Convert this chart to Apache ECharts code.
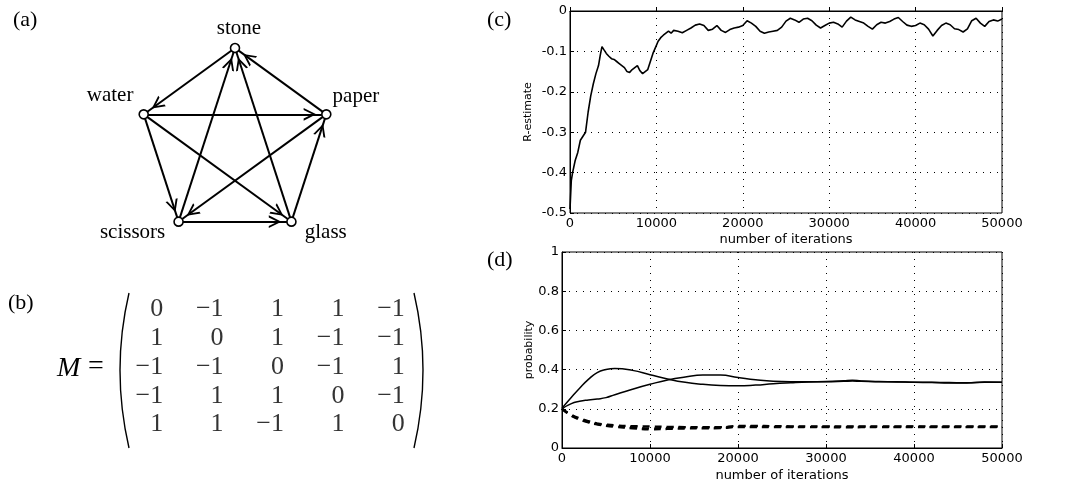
<!DOCTYPE html>
<html>
<head>
<meta charset="utf-8">
<script src="https://cdn.jsdelivr.net/npm/echarts@6/dist/echarts.min.js"></script>
<style>
  html, body { margin: 0; padding: 0; background: #fff; }
  #chart { width: 1086px; height: 483px; }
</style>
</head>
<body>
<div id="chart"></div>
<script>
  // (a) strategies around the pentagon, clockwise from the top
  var strategies = ['stone', 'paper', 'glass', 'scissors', 'water'];
  var beats = [
    ['stone', 'water'], ['paper', 'stone'], ['scissors', 'stone'], ['glass', 'stone'],
    ['water', 'paper'], ['glass', 'paper'], ['water', 'scissors'], ['paper', 'scissors'],
    ['scissors', 'glass'], ['water', 'glass']
  ];

  // (b) payoff matrix
  var matrixM = [
    [0, -1, 1, 1, -1],
    [1, 0, 1, -1, -1],
    [-1, -1, 0, -1, 1],
    [-1, 1, 1, 0, -1],
    [1, 1, -1, 1, 0]
  ];

  // (c) R-estimate
  var iterC = [0, 150, 300, 600, 900, 1200, 1500, 1800, 2100, 2400, 2700, 3000, 3300, 3500, 3700, 3900,
    4200, 4500, 4800, 5100, 5400, 5700, 6000, 6300, 6600, 6900, 7200, 7500, 7800, 8100, 8400, 8700,
    9000, 9300, 9600, 9900, 10200, 10500, 10800, 11100, 11400, 11700, 12000, 12500, 13000, 13500,
    14000, 14500, 15000, 15500, 16000, 16500, 17000, 17500, 18000, 18500, 19000, 19500, 20000,
    20500, 21000, 21500, 22000, 22500, 23000, 23500, 24000, 24500, 25000, 25500, 26000, 26500,
    27000, 27500, 28000, 28500, 29000, 29500, 30000, 30500, 31000, 31500, 32000, 32500, 33000,
    33500, 34000, 34500, 35000, 35500, 36000, 36500, 37000, 37500, 38000, 38500, 39000, 39500,
    40000, 40500, 41000, 41500, 42000, 42500, 43000, 43500, 44000, 44500, 45000, 45500, 46000,
    46500, 47000, 47500, 48000, 48500, 49000, 49500, 50000];
  var rEstimate = [-0.49, -0.42, -0.40, -0.37, -0.35, -0.32, -0.31, -0.30, -0.25, -0.21, -0.18, -0.155,
    -0.135, -0.11, -0.088, -0.095, -0.105, -0.112, -0.118, -0.12, -0.125, -0.13, -0.135, -0.14, -0.15,
    -0.152, -0.145, -0.14, -0.135, -0.148, -0.155, -0.15, -0.145, -0.125, -0.105, -0.09, -0.075,
    -0.066, -0.06, -0.055, -0.05, -0.055, -0.048, -0.05, -0.054, -0.048, -0.042, -0.035, -0.032,
    -0.036, -0.048, -0.045, -0.036, -0.048, -0.053, -0.046, -0.042, -0.04, -0.036, -0.024, -0.03,
    -0.038, -0.05, -0.055, -0.052, -0.05, -0.048, -0.04, -0.025, -0.018, -0.022, -0.028, -0.02,
    -0.018, -0.024, -0.035, -0.042, -0.036, -0.03, -0.028, -0.032, -0.04, -0.025, -0.015, -0.022,
    -0.026, -0.03, -0.038, -0.045, -0.034, -0.028, -0.03, -0.026, -0.02, -0.016, -0.026, -0.035,
    -0.038, -0.036, -0.03, -0.034, -0.045, -0.062, -0.048, -0.036, -0.03, -0.034, -0.044, -0.046,
    -0.052, -0.044, -0.024, -0.018, -0.03, -0.038, -0.026, -0.022, -0.025, -0.02];

  // (d) strategy probabilities
  var iterD = [0, 1000, 2000, 3000, 4000, 5000, 6000, 8000, 10000, 12000, 14000, 16000, 18000, 20000,
    22000, 24000, 26000, 28000, 30000, 32000, 33000, 34000, 36000, 38000, 40000, 42000, 44000,
    46000, 48000, 50000];
  var probA = [0.203, 0.255, 0.305, 0.35, 0.385, 0.4, 0.405, 0.396, 0.374, 0.352, 0.335, 0.325, 0.319,
    0.317, 0.321, 0.328, 0.333, 0.337, 0.339, 0.343, 0.346, 0.342, 0.339, 0.338, 0.335, 0.334,
    0.331, 0.332, 0.337, 0.336];
  var probB = [0.2, 0.225, 0.238, 0.245, 0.25, 0.257, 0.272, 0.3, 0.325, 0.347, 0.362, 0.372, 0.372,
    0.36, 0.348, 0.34, 0.338, 0.338, 0.338, 0.34, 0.342, 0.34, 0.338, 0.337, 0.336, 0.335, 0.334,
    0.333, 0.335, 0.336];
  var probC = [0.2, 0.172, 0.152, 0.137, 0.126, 0.12, 0.116, 0.112, 0.11, 0.108, 0.107, 0.106, 0.106,
    0.113, 0.113, 0.112, 0.111, 0.11, 0.11, 0.11, 0.11, 0.11, 0.11, 0.11, 0.111, 0.111, 0.11, 0.11,
    0.11, 0.11];
  var probD = [0.2, 0.168, 0.148, 0.133, 0.122, 0.116, 0.111, 0.106, 0.1, 0.102, 0.104, 0.104, 0.105,
    0.11, 0.11, 0.109, 0.108, 0.108, 0.108, 0.107, 0.108, 0.108, 0.108, 0.108, 0.109, 0.108, 0.108,
    0.108, 0.108, 0.108];
  var probE = [0.2, 0.165, 0.145, 0.13, 0.12, 0.113, 0.108, 0.1, 0.095, 0.097, 0.099, 0.1, 0.101,
    0.107, 0.107, 0.106, 0.106, 0.106, 0.106, 0.105, 0.105, 0.106, 0.106, 0.106, 0.106, 0.106,
    0.106, 0.106, 0.106, 0.106];

  var sans = 'DejaVu Sans';
  var serif = 'Liberation Serif';

  // open arrowhead; the empty corners keep the box square so the tip
  // stops at the rim of the target node instead of its centre
  var arrowHead = 'path://M0,0 L0,0 Z M40,40 L40,40 Z M20,25 L25.8,36.5 L23.9,36.5 L20,28.6 L16.1,36.5 L14.2,36.5 Z';

  function zip (xs, ys) {
    return xs.map(function (x, i) { return [x, ys[i]] })
  }

  function plotAxes (gridIndex, yMin, yMax, yStep, yName, yNameGap, xNameGap) {
    var tick = { inside: true, length: 4, lineStyle: { color: '#000' } };
    var grid = { show: true, lineStyle: { color: '#000', type: [1, 6], width: 1 } };
    return {
      x: {
        type: 'value', gridIndex: gridIndex, min: 0, max: 50000, interval: 10000,
        axisLine: { show: true, lineStyle: { color: '#000' } },
        axisTick: tick, splitLine: grid,
        axisLabel: {
          color: '#000', fontFamily: sans, fontSize: 13, margin: 4,
          formatter: function (v) { return String(v) }
        },
        name: 'number of iterations', nameLocation: 'middle', nameGap: xNameGap,
        nameTextStyle: { color: '#000', fontFamily: sans, fontSize: 13 }
      },
      y: {
        type: 'value', gridIndex: gridIndex, min: yMin, max: yMax, interval: yStep,
        axisLine: { show: true, lineStyle: { color: '#000' } },
        axisTick: tick, splitLine: grid,
        axisLabel: {
          color: '#000', fontFamily: sans, fontSize: 13, margin: 3,
          formatter: function (v) { return Math.abs(v) < 1e-9 ? '0' : (v === 1 ? '1' : v.toFixed(1)) }
        },
        name: yName, nameLocation: 'middle', nameGap: yNameGap,
        nameTextStyle: { color: '#000', fontFamily: sans, fontSize: 11 }
      }
    }
  }

  var axC = plotAxes(0, -0.5, 0, 0.1, 'R-estimate', 36, 20);
  var axD = plotAxes(1, 0, 1, 0.2, 'probability', 25, 21);

  var hiddenCat = function (gridIndex, inverse) {
    return { type: 'category', gridIndex: gridIndex, data: [0, 1, 2, 3, 4], inverse: inverse, show: false };
  };

  var matrixData = [];
  matrixM.forEach(function (row, r) {
    row.forEach(function (v, c) { matrixData.push([c, r, v]) })
  });

  var nodeLabels = {
    stone: { position: 'top', distance: 4, offset: [4, 0] },
    paper: { position: 'right', distance: 1, offset: [0, -18] },
    water: { position: 'left', distance: 5, offset: [0, -19] },
    scissors: { position: 'left', distance: 8, offset: [0, 11] },
    glass: { position: 'right', distance: 8, offset: [0, 11] }
  };

  var dashed = { color: '#000', width: 2.2, type: [7, 5] };

  var chart = echarts.init(document.getElementById('chart'));
  chart.setOption({
    animation: false,
    backgroundColor: '#fff',
    grid: [
      { left: 570, top: 11, width: 432, height: 202, show: true, borderColor: '#000', borderWidth: 1 },
      { left: 562, top: 252, width: 440, height: 200, show: true, borderColor: '#000', borderWidth: 1 },
      { left: 133, top: 294, width: 302, height: 144 }
    ],
    xAxis: [axC.x, axD.x, hiddenCat(2, false)],
    yAxis: [axC.y, axD.y, hiddenCat(2, true)],
    polar: { center: [235, 144], radius: 96 },
    angleAxis: { type: 'category', data: strategies, startAngle: 126, clockwise: true, show: false },
    radiusAxis: { type: 'value', min: 0, max: 1, show: false },
    graphic: [
      { type: 'text', left: 13, top: 9, style: { text: '(a)', font: '22px ' + serif, fill: '#000' } },
      { type: 'text', left: 8, top: 292, style: { text: '(b)', font: '22px ' + serif, fill: '#000' } },
      { type: 'text', left: 487, top: 9, style: { text: '(c)', font: '22px ' + serif, fill: '#000' } },
      { type: 'text', left: 487, top: 249, style: { text: '(d)', font: '22px ' + serif, fill: '#000' } },
      { type: 'text', left: 57, top: 355, style: { text: 'M', font: 'italic 28px ' + serif, fill: '#000' } },
      { type: 'text', left: 88, top: 353, style: { text: '=', font: '28px ' + serif, fill: '#000' } },
      { type: 'bezierCurve', shape: { x1: 129, y1: 293, cpx1: 111, cpy1: 370, x2: 129, y2: 448 },
        style: { stroke: '#000', fill: null, lineWidth: 1.4 } },
      { type: 'bezierCurve', shape: { x1: 414, y1: 293, cpx1: 432, cpy1: 370, x2: 414, y2: 448 },
        style: { stroke: '#000', fill: null, lineWidth: 1.4 } }
    ],
    series: [
      {
        type: 'graph',
        coordinateSystem: 'polar',
        layout: 'none',
        symbol: 'circle',
        symbolSize: 9,
        itemStyle: { color: '#fff', borderColor: '#000', borderWidth: 1.6 },
        lineStyle: { color: '#000', width: 2, opacity: 1, curveness: 0 },
        edgeSymbol: ['none', arrowHead],
        edgeSymbolSize: [0, 44],
        label: { show: true, color: '#000', fontFamily: serif, fontSize: 21 },
        emphasis: { disabled: true },
        z: 3,
        data: strategies.map(function (name, i) {
          return { name: name, value: [1, i], label: nodeLabels[name] }
        }),
        links: beats.map(function (e) { return { source: e[0], target: e[1] } })
      },
      {
        type: 'scatter',
        xAxisIndex: 2, yAxisIndex: 2,
        symbolSize: 1,
        itemStyle: { color: 'rgba(0,0,0,0)' },
        label: {
          show: true, position: 'inside', align: 'right', verticalAlign: 'middle', offset: [0, 1],
          color: '#000', fontFamily: serif, fontSize: 26,
          formatter: function (p) { return String(p.value[2]).replace('-', '\u2212') }
        },
        emphasis: { disabled: true },
        data: matrixData
      },
      {
        type: 'line', xAxisIndex: 0, yAxisIndex: 0, showSymbol: false,
        lineStyle: { color: '#000', width: 1.6 },
        data: zip(iterC, rEstimate)
      },
      {
        type: 'line', xAxisIndex: 1, yAxisIndex: 1, showSymbol: false, smooth: true,
        lineStyle: { color: '#000', width: 1.5 }, data: zip(iterD, probA)
      },
      {
        type: 'line', xAxisIndex: 1, yAxisIndex: 1, showSymbol: false, smooth: true,
        lineStyle: { color: '#000', width: 1.5 }, data: zip(iterD, probB)
      },
      {
        type: 'line', xAxisIndex: 1, yAxisIndex: 1, showSymbol: false, smooth: true,
        lineStyle: dashed, data: zip(iterD, probC)
      },
      {
        type: 'line', xAxisIndex: 1, yAxisIndex: 1, showSymbol: false, smooth: true,
        lineStyle: dashed, data: zip(iterD, probD)
      },
      {
        type: 'line', xAxisIndex: 1, yAxisIndex: 1, showSymbol: false, smooth: true,
        lineStyle: dashed, data: zip(iterD, probE)
      }
    ]
  });
</script>
</body>
</html>
